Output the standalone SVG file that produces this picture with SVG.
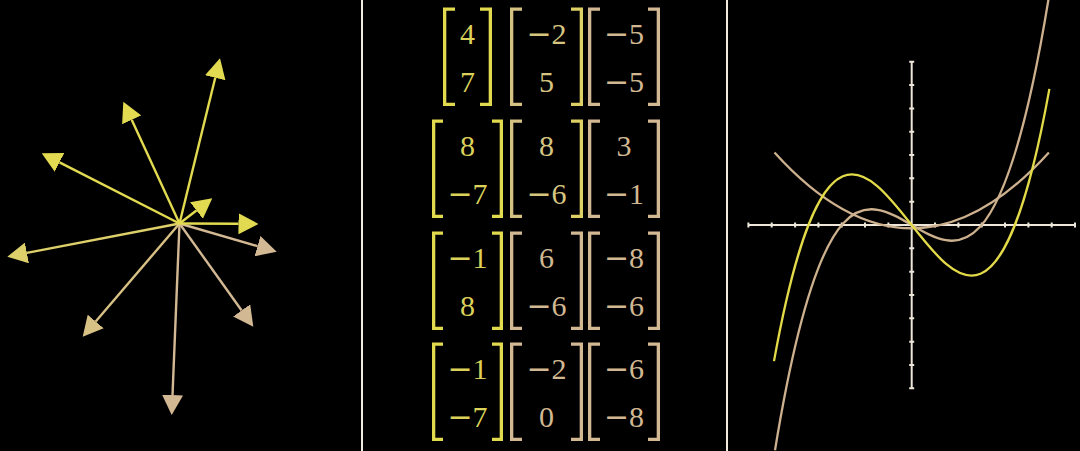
<svg xmlns="http://www.w3.org/2000/svg" width="1080" height="451" viewBox="0 0 1080 451">
<style>
.bg{fill:#000}
.div{stroke:#f0eadf;stroke-width:2}
.vec{stroke-width:2.4;fill:none}
.y{stroke:#e2da50}
.t{stroke:#d3b894}
.my{stroke:#ddd06a}
.mt{stroke:#d8c184}
.br{fill:none;stroke-width:3.3;stroke-linejoin:miter;stroke-linecap:butt}
.num{font-family:"Liberation Serif","DejaVu Serif",serif;font-size:30px;text-anchor:middle}
.m{font-family:"DejaVu Serif",serif}
.ty{fill:#dcd25a}
.tm{fill:#d6c580}
.tt{fill:#d2b892}
.by{stroke:#e2da4e}
.bm1{stroke:#d6c184}
.bm2{stroke:#ddd064}
.bt{stroke:#d3b894}
.axis{stroke:#efe6da;stroke-width:2;fill:none}
.tick{stroke:#efe6da;stroke-width:2;fill:none}
.curve{fill:none;stroke-width:2.3}
</style>
<defs>
<marker id="ahY" viewBox="0 0 20 21" refX="0" refY="10.5" markerWidth="20" markerHeight="21" markerUnits="userSpaceOnUse" orient="auto"><path d="M0,0 L20,10.5 L0,21 z" fill="#e2da50"/></marker>
<marker id="ahT" viewBox="0 0 20 21" refX="0" refY="10.5" markerWidth="20" markerHeight="21" markerUnits="userSpaceOnUse" orient="auto"><path d="M0,0 L20,10.5 L0,21 z" fill="#d3b894"/></marker>
<marker id="ahMY" viewBox="0 0 20 21" refX="0" refY="10.5" markerWidth="20" markerHeight="21" markerUnits="userSpaceOnUse" orient="auto"><path d="M0,0 L20,10.5 L0,21 z" fill="#ddd06a"/></marker>
<marker id="ahMT" viewBox="0 0 20 21" refX="0" refY="10.5" markerWidth="20" markerHeight="21" markerUnits="userSpaceOnUse" orient="auto"><path d="M0,0 L20,10.5 L0,21 z" fill="#d8c184"/></marker>
</defs>
<rect class="bg" x="0" y="0" width="1080" height="451"/>

<g id="dividers">
<line class="div" x1="362" y1="0" x2="362" y2="451"/>
<line class="div" x1="727" y1="0" x2="727" y2="451"/>
</g>

<g id="vectors">
<line class="vec t" x1="179.5" y1="223.5" x2="257.5" y2="246.13" marker-end="url(#ahT)"/>
<line class="vec t" x1="179.5" y1="223.5" x2="241.67" y2="310.43" marker-end="url(#ahT)"/>
<line class="vec t" x1="179.5" y1="223.5" x2="172.51" y2="395.02" marker-end="url(#ahT)"/>
<line class="vec mt" x1="179.5" y1="223.5" x2="95.7" y2="321.5" marker-end="url(#ahMT)"/>
<line class="vec my" x1="179.5" y1="223.5" x2="26.93" y2="252.91" marker-end="url(#ahMY)"/>
<line class="vec y" x1="179.5" y1="223.5" x2="215.24" y2="77.73" marker-end="url(#ahY)"/>
<line class="vec y" x1="179.5" y1="223.5" x2="131.68" y2="119.86" marker-end="url(#ahY)"/>
<line class="vec y" x1="179.5" y1="223.5" x2="59.52" y2="162.38" marker-end="url(#ahY)"/>
<line class="vec y" x1="179.5" y1="223.5" x2="196.44" y2="210.49" marker-end="url(#ahY)"/>
<line class="vec y" x1="179.5" y1="223.5" x2="238.5" y2="223.8" marker-end="url(#ahY)"/>
</g>

<g id="matrices">
<g id="m11">
<path class="br by" d="M455,9.15H444.65V104.35H455"/>
<path class="br by" d="M480,9.15H490.35V104.35H480"/>
<text class="num ty" x="467.5" y="44">4</text>
<text class="num ty" x="467.5" y="92">7</text>
</g>
<g id="m12">
<path class="br bm1" d="M522,9.15H511.65V104.35H522"/>
<path class="br bm2" d="M571,9.15H581.35V104.35H571"/>
<text class="num tm" x="546.5" y="44"><tspan class="m">−</tspan>2</text>
<text class="num tm" x="546.5" y="92">5</text>
</g>
<g id="m13">
<path class="br bt" d="M600,9.15H589.65V104.35H600"/>
<path class="br bt" d="M648,9.15H658.35V104.35H648"/>
<text class="num tt" x="624" y="44"><tspan class="m">−</tspan>5</text>
<text class="num tt" x="624" y="92"><tspan class="m">−</tspan>5</text>
</g>
<g id="m21">
<path class="br by" d="M443,121.15H433.65V216.35H443"/>
<path class="br by" d="M492,121.15H501.35V216.35H492"/>
<text class="num ty" x="467.5" y="156">8</text>
<text class="num ty" x="467.5" y="204"><tspan class="m">−</tspan>7</text>
</g>
<g id="m22">
<path class="br bm1" d="M522,121.15H511.65V216.35H522"/>
<path class="br bm2" d="M571,121.15H581.35V216.35H571"/>
<text class="num tm" x="546.5" y="156">8</text>
<text class="num tm" x="546.5" y="204"><tspan class="m">−</tspan>6</text>
</g>
<g id="m23">
<path class="br bt" d="M600,121.15H589.65V216.35H600"/>
<path class="br bt" d="M648,121.15H658.35V216.35H648"/>
<text class="num tt" x="624" y="156">3</text>
<text class="num tt" x="624" y="204"><tspan class="m">−</tspan>1</text>
</g>
<g id="m31">
<path class="br by" d="M443,233.15H433.65V328.35H443"/>
<path class="br by" d="M492,233.15H501.35V328.35H492"/>
<text class="num ty" x="467.5" y="268"><tspan class="m">−</tspan>1</text>
<text class="num ty" x="467.5" y="316">8</text>
</g>
<g id="m32">
<path class="br bt" d="M522,233.15H511.65V328.35H522"/>
<path class="br bt" d="M571,233.15H581.35V328.35H571"/>
<text class="num tt" x="546.5" y="268">6</text>
<text class="num tt" x="546.5" y="316"><tspan class="m">−</tspan>6</text>
</g>
<g id="m33">
<path class="br bt" d="M600,233.15H589.65V328.35H600"/>
<path class="br bt" d="M648,233.15H658.35V328.35H648"/>
<text class="num tt" x="624" y="268"><tspan class="m">−</tspan>8</text>
<text class="num tt" x="624" y="316"><tspan class="m">−</tspan>6</text>
</g>
<g id="m41">
<path class="br by" d="M443,344.15H433.65V439.35H443"/>
<path class="br by" d="M492,344.15H501.35V439.35H492"/>
<text class="num ty" x="467.5" y="379"><tspan class="m">−</tspan>1</text>
<text class="num ty" x="467.5" y="427"><tspan class="m">−</tspan>7</text>
</g>
<g id="m42">
<path class="br bt" d="M522,344.15H511.65V439.35H522"/>
<path class="br bt" d="M571,344.15H581.35V439.35H571"/>
<text class="num tt" x="546.5" y="379"><tspan class="m">−</tspan>2</text>
<text class="num tt" x="546.5" y="427">0</text>
</g>
<g id="m43">
<path class="br bt" d="M600,344.15H589.65V439.35H600"/>
<path class="br bt" d="M648,344.15H658.35V439.35H648"/>
<text class="num tt" x="624" y="379"><tspan class="m">−</tspan>6</text>
<text class="num tt" x="624" y="427"><tspan class="m">−</tspan>8</text>
</g>
</g>

<g id="graph">
<line class="axis" x1="748.4" y1="225" x2="1075" y2="225"/>
<line class="axis" x1="911.7" y1="61.7" x2="911.7" y2="388.3"/>
<path class="tick" d="M748.4,222.5v5M771.7,222.5v5M795.1,222.5v5M818.4,222.5v5M841.7,222.5v5M865,222.5v5M888.4,222.5v5M935,222.5v5M958.4,222.5v5M981.7,222.5v5M1005,222.5v5M1028.4,222.5v5M1051.7,222.5v5M1075,222.5v5"/>
<path class="tick" d="M909.2,61.7h5M909.2,85h5M909.2,108.4h5M909.2,131.7h5M909.2,155h5M909.2,178.3h5M909.2,201.7h5M909.2,248.3h5M909.2,271.7h5M909.2,295h5M909.2,318.3h5M909.2,341.7h5M909.2,365h5M909.2,388.3h5"/>
<path class="curve" stroke="#cdb08e" d="M774.5,152.4Q911.7,304.1 1048.9,152.4"/>
<path class="curve" stroke="#cdb08e" d="M775,450.2C866.1,-106.8 957.3,556.8 1048.4,-0.2"/>
<path class="curve" stroke="#e2da48" d="M774,361.1C865.8,-144.9 957.6,594.9 1049.4,88.9"/>
</g>
</svg>
